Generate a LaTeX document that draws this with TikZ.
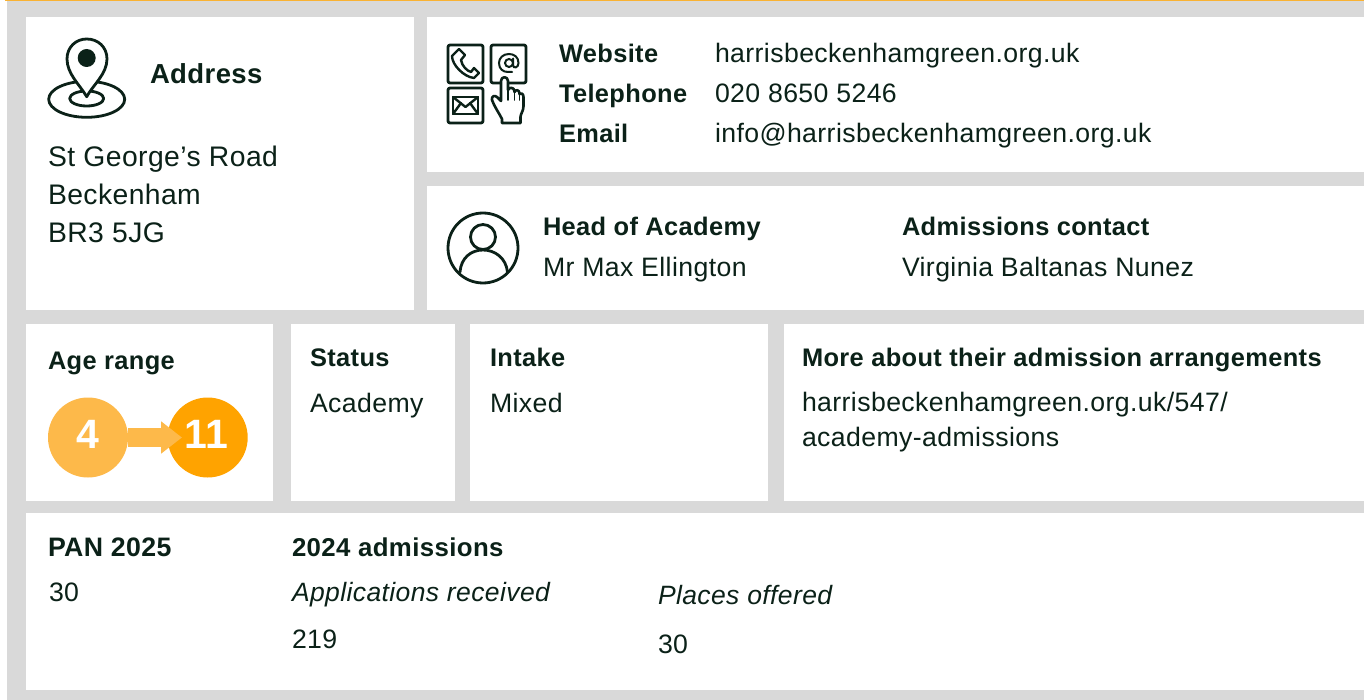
\documentclass[tikz,border=0pt]{standalone}
\usepackage{fontspec}
\setmainfont{Liberation Sans}[LetterSpace=1.5]
\usetikzlibrary{arrows.meta}
\definecolor{ink}{HTML}{0B2118}
\definecolor{panelgrey}{HTML}{D9D9D9}
\definecolor{topline}{HTML}{F9B233}
\definecolor{amberlight}{HTML}{FDB94A}
\definecolor{amber}{HTML}{FFA300}
\tikzset{
  x=1pt,y=-1pt,
  panel/.style={fill=white,draw=none},
  txt/.style={anchor=base west,inner sep=0pt,outer sep=0pt,text=ink,font=\fontsize{26.65}{30}\selectfont},
  big/.style={txt,font=\fontsize{28.3}{30}\selectfont},
  hd/.style={txt,font=\fontsize{25.4}{30}\selectfont\bfseries},
  hdb/.style={txt,font=\fontsize{27.5}{30}\selectfont\bfseries},
  hdc/.style={txt,font=\fontsize{26.7}{30}\selectfont\bfseries},
  hdd/.style={txt,font=\fontsize{25.8}{30}\selectfont\bfseries},
  it/.style={txt,font=\fontsize{26.5}{30}\selectfont\itshape},
  icon/.style={draw=ink,line width=2.8pt,line join=round,line cap=round},
  agecircle/.style={circle,minimum size=80pt,inner sep=0pt},
  agelabel/.style={anchor=base,inner sep=0pt,text=white,font=\fontsize{41}{44}\selectfont\bfseries},
}
\begin{document}
\begin{tikzpicture}
\useasboundingbox (0,0) rectangle (1364,700);
\fill[white] (0,0) rectangle (1364,700);
\fill[panelgrey] (7,1) rectangle (1364,700);
\fill[topline] (5,0) rectangle (1364,1.5);
% panels
\fill[panel] (26,17) rectangle (414,310);
\fill[panel] (427,17) rectangle (1364,172);
\fill[panel] (427,186) rectangle (1364,310);
\fill[panel] (26,324) rectangle (273,501);
\fill[panel] (291,324) rectangle (455,501);
\fill[panel] (470,324) rectangle (768,501);
\fill[panel] (784,324) rectangle (1364,501);
\fill[panel] (26,513) rectangle (1364,690);
% address text
\node[hdb] (addr) at (150,84) {Address};
\node[big] (a1) at (48,166.3) {St George’s Road};
\node[big] (a2) at (48,204.3) {Beckenham};
\node[big] (a3) at (48,242.3) {BR3 5JG};
% contacts
\node[hd] (w) at (559,63) {Website};
\node[hd] (t) at (559,103) {Telephone};
\node[hd] (e) at (559,142.5) {Email};
\node[txt] (w2) at (715,63) {harrisbeckenhamgreen.org.uk};
\node[txt] (t2) at (715,103) {020 8650 5246};
\node[txt] (e2) at (715,142.5) {info@harrisbeckenhamgreen.org.uk};
% heads
\node[hd] (h1) at (543,236) {Head of Academy};
\node[txt] (h2) at (543,277) {Mr Max Ellington};
\node[hd] (c1) at (902,236) {Admissions contact};
\node[txt] (c2) at (902,277) {Virginia Baltanas Nunez};
% row 2
\node[hd] (ar) at (48,369) {Age range};
\node[hd] (s1) at (310,366) {Status};
\node[txt] (s2) at (310,412) {Academy};
\node[hd] (i1) at (490,366) {Intake};
\node[txt] (i2) at (490,412) {Mixed};
\node[hd] (m1) at (802,366) {More about their admission arrangements};
\node[txt] (m2) at (802,411.5) {harrisbeckenhamgreen.org.uk/547/};
\node[txt] (m3) at (802,446) {academy-admissions};
% row 3
\node[hdc] (p1) at (48,556) {PAN 2025};
\node[txt] (p2) at (49,601) {30};
\node[hdd] (d1) at (292,556) {2024 admissions};
\node[it] (d2) at (292,601) {Applications received};
\node[txt] (d3) at (292,648) {219};
\node[it] (d4) at (658,604) {Places offered};
\node[txt] (d5) at (658,653) {30};
% age graphic
\node[agecircle,fill=amber] (eleven) at (207.7,437.5) {};
\node[agecircle,fill=amberlight] (four) at (88,437.5) {};
\coordinate (tip) at (182,437.5);
\draw[amberlight,line width=19pt,-{Triangle[length=21pt,width=31pt]}] (four.east) -- (tip);
\node[agelabel] (fourlabel) at (88,448) {4};
\node[agelabel] (elevenlabel) at (206.5,448) {11};
% pin icon
\draw[icon] (86.7,99.3) ellipse (38 and 18);
\draw[icon] (86.7,98.5) ellipse (17 and 7.5);
\draw[icon,fill=white] (86.7,96.7) .. controls (80,85) and (67,74) .. (67,59) .. controls (67,47) and (76,39) .. (86.7,39) .. controls (98,39) and (107,47) .. (107,59) .. controls (107,74) and (93,85) .. (86.7,96.7) -- cycle;
\fill[ink] (86.7,58) circle (9);
% contact icons
\draw[icon,rounded corners=2pt] (448,45) rectangle (483,83);
\draw[icon,rounded corners=2pt] (448,88) rectangle (483,123);
\draw[icon,rounded corners=2pt] (491,45) rectangle (526,83);
% phone
\draw[icon,line width=2.4pt] (459,49) -- (465,55) -- (461,60) .. controls (462,66) and (467,71) .. (471,72) -- (474,68) -- (479,73) -- (474,78) .. controls (464,77) and (452,65) .. (452,56) -- cycle;
% envelope
\draw[icon,line width=2.6pt] (453,97) rectangle (478,114);
\draw[icon,line width=2.4pt] (453,97) -- (465.5,107) -- (478,97);
\draw[icon,line width=2.4pt] (453,114) -- (461,103);
\draw[icon,line width=2.4pt] (478,114) -- (470,103);
% at sign
\draw[ink,line width=2pt] (509,63) circle (4);
\draw[ink,line width=2pt,line cap=round] (513,58.5) -- (513,65) .. controls (513,69) and (518.5,68) .. (518.5,63) .. controls (518.5,57) and (514,54) .. (509,54) .. controls (503,54) and (499,58) .. (499,63) .. controls (499,69) and (503,72) .. (508,72) -- (512,72);
% hand
\draw[icon,line width=2.6pt,fill=white] (501,101) -- (501,81) .. controls (501,76) and (508,76) .. (508,81) -- (508,90) .. controls (509,87) and (514,87) .. (514.5,91) -- (514.5,92) .. controls (516,89) and (519,90) .. (519.5,93) -- (519.5,94) .. controls (521,92) and (523.5,94) .. (523.5,97) -- (523.5,106) .. controls (523.5,111) and (520.5,114) .. (520.5,117) -- (520.5,123) -- (502,123) -- (502,119) .. controls (499,113) and (494,106) .. (492,100) .. controls (491,96) and (495,95) .. (497,97) -- cycle;
\draw[icon,line width=1.7pt] (508,90) -- (508,100) (514.5,92) -- (514.5,100) (519.5,94) -- (519.5,100);
% person icon
\draw[icon] (483,248) circle (35);
\draw[icon] (483,237) circle (12.5);
\draw[icon] (460,272) .. controls (461,258) and (471,250) .. (483,250) .. controls (495,250) and (506,258) .. (507.5,272);
\end{tikzpicture}
\end{document}
